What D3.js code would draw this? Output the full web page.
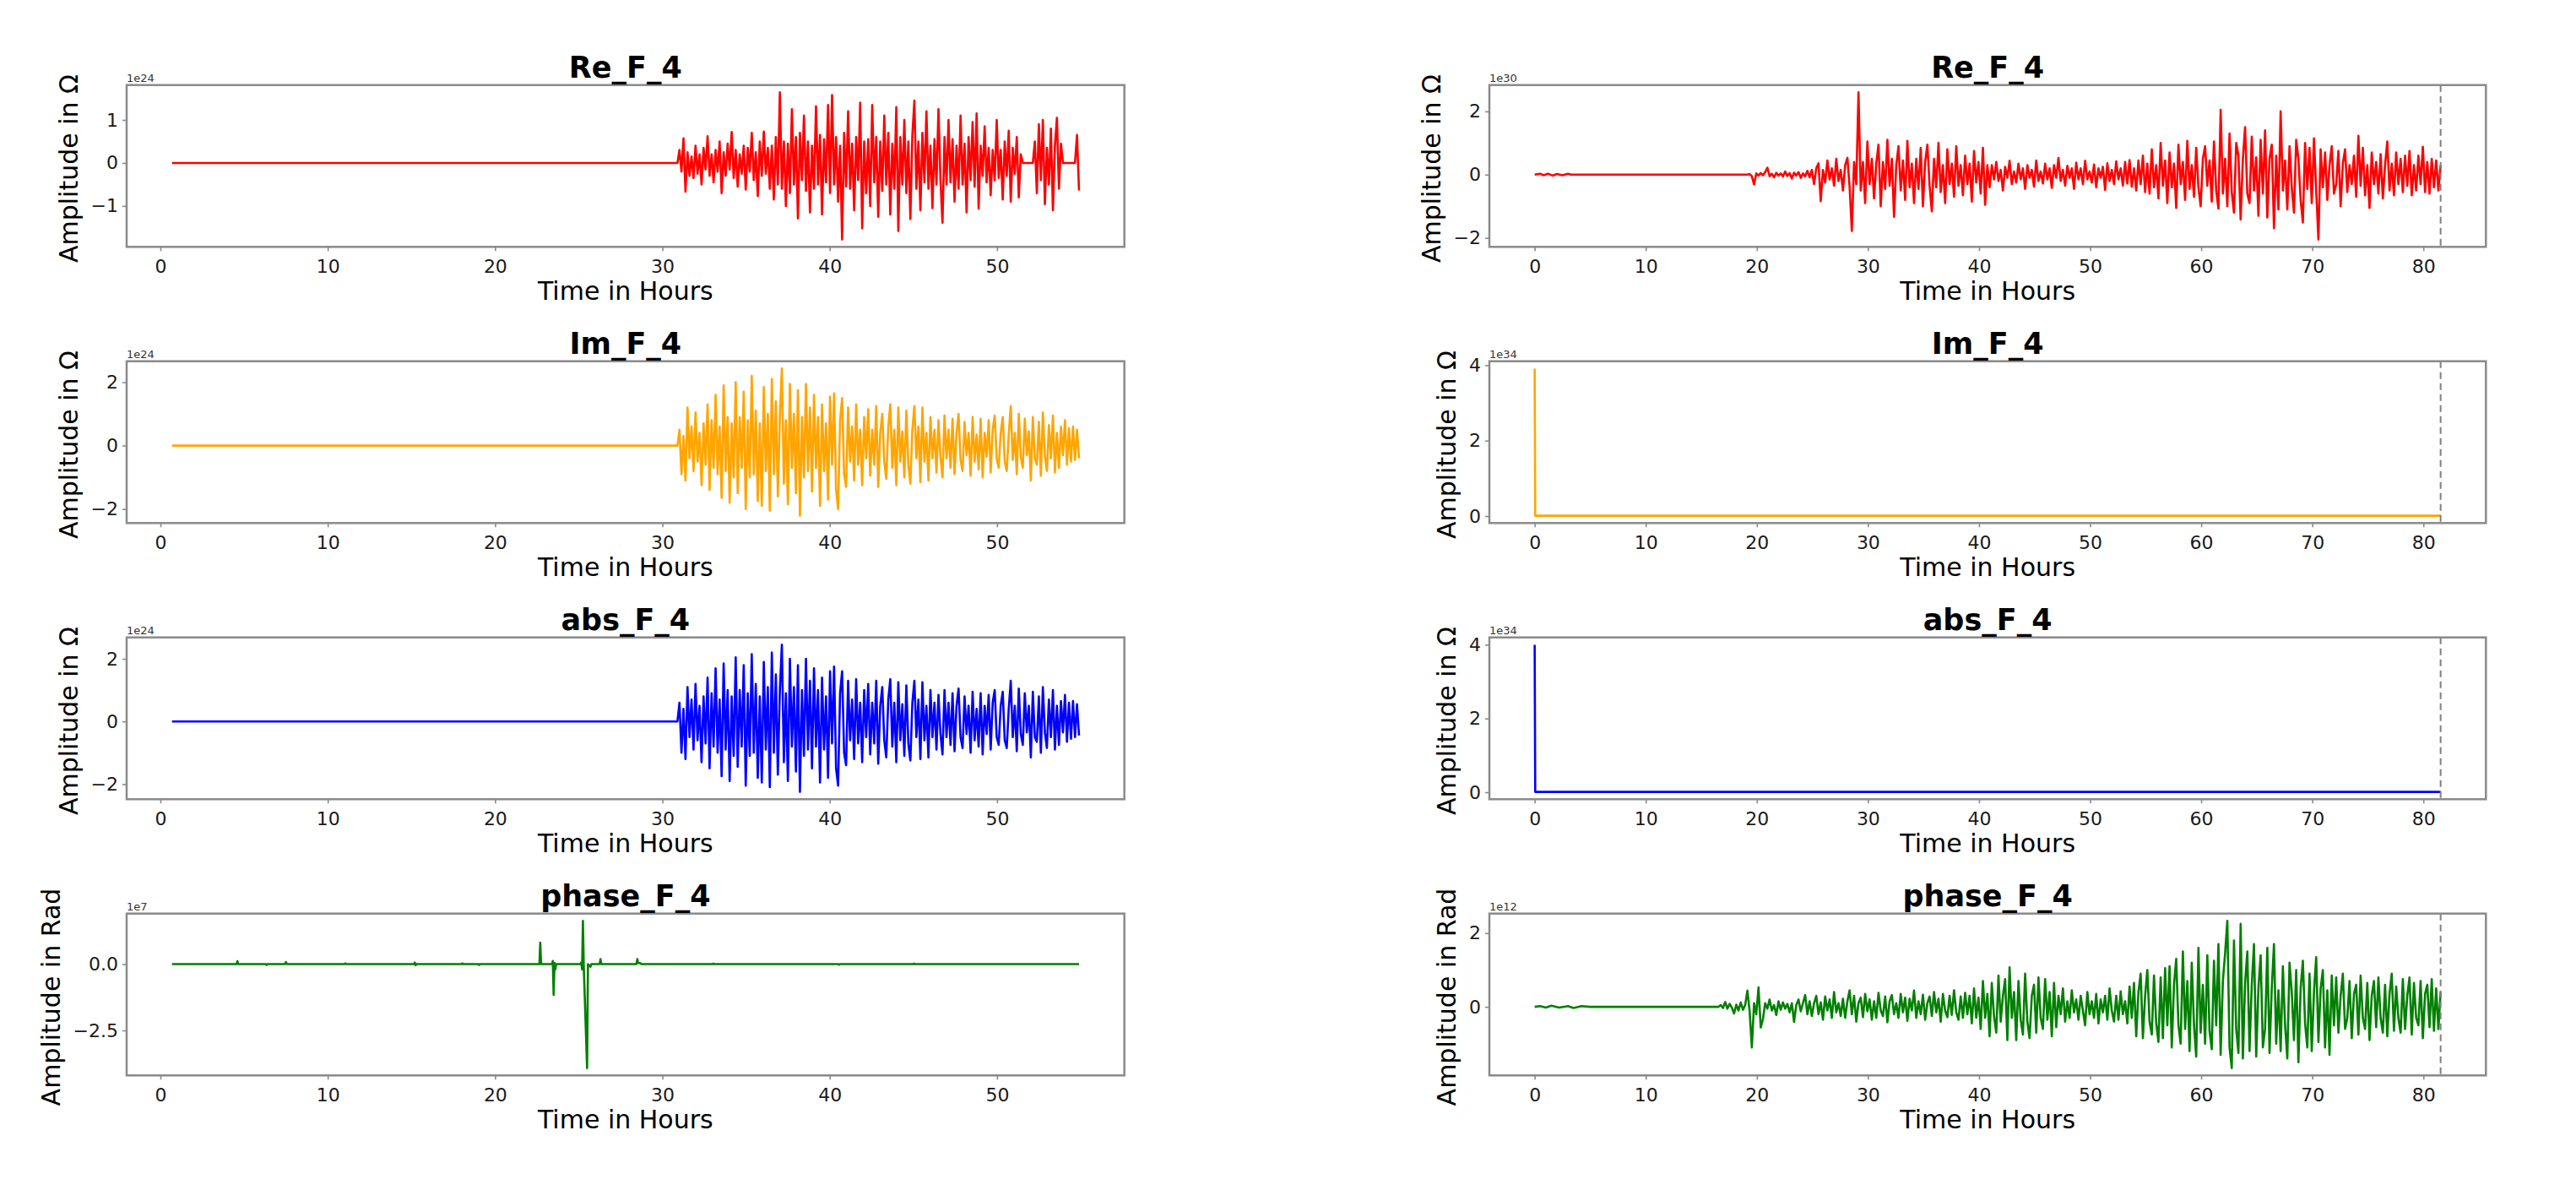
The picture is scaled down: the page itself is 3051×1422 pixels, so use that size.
<!DOCTYPE html>
<html>
<head>
<meta charset="utf-8">
<script src="https://cdn.jsdelivr.net/npm/d3@7"></script>
<style>
  body { margin: 0; background: #fff; }
  text { font-family: "DejaVu Sans", sans-serif; }
</style>
</head>
<body>
<div id="chart"></div>
<script>
// amplitudes are stored in units of the axis offset shown above each panel (1e24, 1e30 ...)

// ---- left run (hours 0.69 .. 54.9) ----
const leftLead = [[0.69, 0]];
const leftNoiseStart = 30.9, leftNoiseStep = 0.12;

const reLeft = [
  0, 0.3, -0.2, 0.57, -0.67, 0.25, -0.3, 0.15, -0.35, 0.4,
  -0.25, 0.2, -0.5, 0.35, -0.15, 0.62, -0.3, 0.2, -0.45, 0.3,
  -0.2, 0.5, -0.7, 0.25, -0.3, 0.45, -0.15, 0.72, -0.35, 0.3,
  -0.55, 0.2, -0.25, 0.4, -0.62, 0.35, -0.2, 0.7, -0.4, 0.25,
  -0.77, 0.5, -0.3, 0.73, -0.25, 0.35, -0.6, 0.4, -0.85, 0.6,
  -0.5, 1.64, -0.6, 0.5, -1.0, 0.45, -0.7, 1.25, -0.5, 0.6,
  -1.29, 0.7, -0.4, 1.1, -0.65, 0.5, -1.15, 0.4, -0.6, 1.32,
  -0.5, 0.65, -1.2, 0.55, -0.45, 1.35, -0.7, 1.58, -0.5, 0.6,
  -0.9, 0.4, -1.78, 0.7, -0.55, 1.2, -0.6, 0.45, -1.1, 0.6,
  -0.4, 1.4, -1.52, 0.5, -0.7, 0.55, -1.0, 1.35, -0.45, 0.6,
  -1.25, 0.5, -0.65, 1.1, -0.5, 0.7, -1.2, 0.45, -0.6, 1.3,
  -1.58, 0.6, -0.5, 1.0, -0.7, 0.5, -1.3, 0.65, 1.45, -0.6,
  0.5, -1.1, 0.7, -0.45, 1.2, -0.6, 0.4, -1.05, 0.55, -0.5,
  1.25, -0.4, -1.39, 0.6, -0.5, 1.0, -0.45, 0.55, -0.9, 0.4,
  -0.6, 1.1, -0.5, 0.45, -1.15, 0.6, -0.4, 0.95, -0.55, 1.15,
  -1.06, 0.4, -0.3, 0.85, -0.45, 0.35, -0.75, 0.3, -0.4, 1.0,
  -0.35, 0.3, -0.85, 0.5, -0.3, 0.75, -0.9, 0.35, -0.25, 0.6,
  -0.8, 0.2, 0, 0, 0, 0, 0, 0, 0.5, -0.7,
  0.9, -0.4, 1.0, -0.96, 0.35, -0.5, 0.8, -1.1, 0.4, 1.05,
  -0.6, 0.45, 0, 0, 0, 0, 0, 0, 0, 0.65,
  -0.64
];

const imLeft = [
  0, 0.5, -0.9, 0.3, -1.1, 1.2, -0.4, 0.6, -0.8, 1.05,
  -0.5, 0.4, -1.25, 0.7, -0.6, 1.3, -1.4, 0.8, -0.7, 1.6,
  -0.9, 0.6, -1.65, 1.9, -0.8, 0.9, -1.8, 0.7, -1.0, 2.0,
  -1.5, 0.9, -0.7, 1.7, -2.0, 0.8, -1.0, 2.2, -0.9, 1.1,
  -1.75, 0.7, -1.9, 1.85, -0.8, 1.0, -2.05, 2.1, -0.9, 1.4,
  -1.6, 0.9, 2.43, -1.2, 0.8, -1.85, 1.95, -0.7, 1.0, -1.5,
  1.75, -2.21, 0.9, -1.0, 1.95, -0.8, 1.2, -1.45, 1.6, -0.7,
  0.9, -1.9, 1.3, -0.8, 0.7, -1.7, 1.55, -0.6, 1.65, -1.4,
  -2.0, 0.8, 1.5, -0.9, -1.3, 1.2, -0.5, 0.6, -1.1, 1.3,
  -0.6, 0.5, -1.25, 0.9, -0.4, 1.15, -0.95, 0.5, -0.6, 1.25,
  -1.3, 0.4, 1.0, -0.5, -1.05, 0.6, 1.3, -0.7, 0.5, -1.25,
  1.2, -0.5, 0.45, -1.0, 1.1, -0.6, -1.2, 0.5, 1.25, -0.4,
  0.6, -1.15, 1.2, -0.5, 0.4, -1.1, 0.9, -0.4, 0.5, -0.85,
  0.8, -0.35, -1.0, 0.95, -0.4, 0.5, -0.7, 0.85, -0.9, 0.4,
  1.0, -0.45, -0.8, 0.75, -0.3, 0.4, -0.95, 0.9, -0.5, 0.35,
  -0.75, 0.85, -1.0, 0.4, -0.35, 0.8, -0.85, 0.5, 0.95, -0.4,
  -0.7, 0.4, 0.9, -0.5, -0.8, 0.35, 1.25, -0.45, 0.4, -0.9,
  1.0, -0.35, -0.7, 0.85, -0.3, 0.45, -1.1, 0.9, -0.4, -0.6,
  0.75, -0.95, 1.05, -0.3, -0.8, 0.65, -0.4, 0.95, -0.85, 0.4,
  -0.7, 0.6, -0.3, 0.8, -0.6, 0.55, -0.5, 0.6, -0.45, 0.5,
  -0.4
];

const absLeft = [
  0, 0.6, -1.0, 0.4, -1.2, 1.1, -0.5, 0.7, -0.9, 1.2,
  -0.6, 0.5, -1.3, 0.8, -0.7, 1.4, -1.5, 0.9, -0.8, 1.7,
  -1.0, 0.7, -1.75, 1.85, -0.9, 1.0, -1.9, 0.8, -1.1, 2.05,
  -1.45, 1.0, -0.8, 1.8, -2.05, 0.9, -1.1, 2.15, -1.0, 1.2,
  -1.8, 0.8, -1.95, 1.9, -0.9, 1.1, -2.1, 2.2, -1.0, 1.5,
  -1.7, 1.0, 2.45, -1.3, 0.9, -1.9, 2.0, -0.8, 1.1, -1.6,
  1.8, -2.25, 1.0, -1.1, 2.0, -0.9, 1.3, -1.5, 1.7, -0.8,
  1.0, -1.95, 1.4, -0.9, 0.8, -1.8, 1.6, -0.7, 1.75, -1.5,
  -2.05, 0.9, 1.6, -1.0, -1.4, 1.3, -0.6, 0.7, -1.2, 1.35,
  -0.7, 0.6, -1.3, 1.0, -0.5, 1.2, -1.05, 0.6, -0.7, 1.3,
  -1.35, 0.5, 1.1, -0.6, -1.15, 0.7, 1.35, -0.8, 0.6, -1.3,
  1.25, -0.6, 0.55, -1.1, 1.15, -0.7, -1.25, 0.6, 1.3, -0.5,
  0.7, -1.2, 1.25, -0.6, 0.5, -1.15, 1.0, -0.5, 0.6, -0.9,
  0.85, -0.4, -1.05, 1.0, -0.5, 0.6, -0.75, 0.9, -0.95, 0.5,
  1.05, -0.5, -0.85, 0.8, -0.4, 0.5, -1.0, 0.95, -0.6, 0.4,
  -0.8, 0.9, -1.05, 0.5, -0.4, 0.85, -0.9, 0.6, 1.0, -0.5,
  -0.75, 0.5, 0.95, -0.6, -0.85, 0.4, 1.3, -0.5, 0.5, -0.95,
  1.05, -0.4, -0.75, 0.9, -0.35, 0.5, -1.15, 0.95, -0.5, -0.65,
  0.8, -1.0, 1.1, -0.35, -0.85, 0.7, -0.5, 1.0, -0.9, 0.5,
  -0.75, 0.65, -0.35, 0.85, -0.65, 0.6, -0.55, 0.65, -0.5, 0.55,
  -0.45
];

// [hour, value] - phase is flat with a few spikes
const phaseLeft = [
  [0.69, 0], [4.55, 0], [4.6, 0.11], [4.65, 0], [6.3, 0], [6.35, -0.03], [6.4, 0],
  [7.45, 0], [7.5, 0.08], [7.55, 0], [11.0, 0], [11.05, 0.03], [11.1, 0],
  [15.15, 0], [15.2, 0.06], [15.25, -0.04], [15.3, 0], [18.0, 0], [18.05, 0.03], [18.1, 0],
  [19.0, 0], [19.05, -0.03], [19.1, 0], [22.65, 0], [22.7, 0.81], [22.75, 0],
  [23.4, 0], [23.45, 0.12], [23.5, -1.16], [23.55, 0.05], [23.6, -0.2], [23.65, 0],
  [25.1, 0], [25.15, 0.06], [25.2, -0.2], [25.25, 1.63], [25.3, -0.1], [25.5, -3.92], [25.55, 0],
  [25.7, -0.1], [25.75, 0], [26.25, 0], [26.3, 0.19], [26.35, 0],
  [28.45, 0], [28.5, 0.19], [28.55, 0.05], [28.7, 0.03], [28.75, 0],
  [33.0, 0], [33.05, 0.02], [33.1, 0], [40.5, 0], [40.55, -0.02], [40.6, 0],
  [45.0, 0], [45.05, 0.02], [45.1, 0], [54.9, 0]
];

// ---- right run (hours 0 .. 81.55) ----
const rightStep = 0.2;
const reRightLead = [[0, 0], [0.5, 0.03], [0.8, -0.02], [1.2, 0.03], [1.6, -0.03], [2.0, 0.02], [2.5, -0.02], [3.0, 0.03], [3.3, 0]];
const reRightStart = 19.15;
const reRight = [
  0, 0.02, -0.05, -0.31, 0.04, -0.03, 0.05, -0.02, 0.08, 0.22,
  -0.05, 0.03, -0.08, 0.06, -0.03, 0.04, -0.06, 0.1, -0.04, 0.05,
  -0.12, 0.06, -0.03, 0.08, -0.1, 0.04, -0.05, 0.12, -0.08, 0.15,
  -0.3, 0.2, 0.36, -0.84, 0.15, -0.25, 0.45, -0.15, 0.2, -0.35,
  0.5, -0.2, 0.15, -0.5, 0.3, 0.53, -0.38, -1.78, 0.4, -0.3,
  2.6, -0.5, 0.4, -0.9, 1.05, -0.3, 0.5, -0.75, 0.35, 0.95,
  -1.0, 0.4, -0.45, 1.1, -0.35, 0.5, -1.33, 0.3, 0.9, -0.5,
  0.45, -0.8, 1.07, -0.4, 0.35, -0.9, 0.5, -0.45, 0.85, -1.0,
  0.4, 0.95, -0.35, -1.16, 0.5, -0.4, 1.0, -0.55, 0.3, -0.9,
  0.8, -0.3, 0.35, -0.7, 0.9, -0.35, 0.3, -0.65, 0.6, -0.3,
  0.35, -0.85, 0.75, -0.25, 0.4, -0.6, 0.85, -0.95, 0.3, -0.4,
  0.3, -0.15, 0.4, -0.2, 0.15, -0.5, 0.25, -0.1, 0.44, -0.3,
  0.1, -0.25, 0.35, -0.15, 0.2, -0.45, 0.3, -0.1, 0.15, -0.38,
  0.45, -0.2, 0.1, -0.28, 0.35, -0.15, 0.2, -0.42, 0.3, -0.1,
  0.53, -0.2, 0.15, -0.35, 0.28, -0.1, 0.2, -0.45, 0.38, -0.15,
  0.2, -0.3, 0.44, -0.15, 0.1, -0.25, 0.32, -0.4, 0.2, -0.1,
  0.25, -0.48, 0.36, -0.2, 0.15, -0.3, 0.42, -0.15, 0.2, -0.35,
  0.4, -0.28, 0.46, -0.38, 0.2, -0.5, 0.45, -0.3, 0.6, -0.55,
  0.35, -0.6, 0.8, -0.4, 0.3, -0.75, 1.0, -0.35, 0.45, -0.9,
  0.7, -0.4, 0.35, -1.05, 0.95, -0.3, 0.4, -0.8, 1.07, -0.45,
  0.3, -0.7, 0.85, -0.4, -1.0, 0.5, 0.9, -0.35, 0.45, -0.85,
  1.05, -0.5, -1.07, 2.05, -0.6, 0.5, -1.0, 1.3, -0.55, -1.2,
  1.0, 0.6, -1.42, 0.5, 1.5, -0.6, -0.9, 1.2, -0.5, 0.55,
  -1.3, 1.1, -0.6, 1.4, -1.35, 0.5, 0.95, -1.69, 0.6, -1.1,
  2.0, -0.5, 0.45, -1.1, 0.9, -0.4, -1.2, 1.1, 0.5, -0.8,
  -1.51, 1.0, -0.45, 0.85, -0.9, 1.15, -0.5, -2.05, 0.8, -0.4,
  0.7, -0.8, 0.3, 0.9, -0.6, -0.3, 0.75, -1.0, 0.35, 0.8,
  -0.55, 0.3, -0.3, 0.6, -0.7, 1.23, -0.35, 0.85, -0.65, 0.3,
  -1.05, 0.7, -0.3, 0.4, -0.6, 0.65, -0.75, 0.3, 1.05, -0.5,
  0.35, -0.65, 0.7, -0.3, 0.5, -0.55, 0.6, -0.35, 0.75, -0.65,
  0.3, -0.5, 0.6, -0.3, 0.88, -0.55, 0.4, -0.6, 0.5, -0.4,
  0.45, -0.5, 0.3
];

const imRight  = [[0, 3.91], [0.05, 0.01], [81.55, 0.01]];
const absRight = [[0, 4.0], [0.05, 0.01], [81.55, 0.01]];

const phaseRightLead = [[0, 0], [0.5, 0.02], [1.0, -0.02], [1.5, 0.03], [2.2, -0.02], [3.0, 0.02], [3.5, -0.03], [4.2, 0.02], [5.0, 0]];
const phaseRightStart = 16.55;
const phaseRight = [
  0, 0.05, -0.03, 0.13, -0.05, 0.08, -0.02, -0.18, 0.06, -0.1,
  0.12, -0.08, 0.05, 0.44, -0.12, -1.1, 0.1, -0.2, 0.53, -0.56,
  -0.33, 0.1, -0.05, 0.2, -0.1, 0.05, -0.22, 0.15, -0.08, 0.12,
  -0.05, 0.08, -0.15, 0.1, -0.41, 0.05, 0.2, -0.12, 0.1, 0.32,
  -0.2, 0.15, -0.25, 0.1, 0.3, -0.2, 0.12, -0.35, 0.28, -0.1,
  0.2, -0.3, 0.4, -0.15, 0.1, -0.25, 0.22, -0.3, 0.15, 0.45,
  -0.2, 0.3, -0.4, 0.1, 0.25, -0.28, 0.35, -0.12, 0.2, -0.35,
  0.15, -0.3, 0.38, -0.1, -0.25, 0.28, -0.42, 0.15, 0.32, -0.2,
  0.1, -0.3, 0.35, -0.15, 0.25, -0.38, 0.22, -0.1, 0.44, -0.3,
  0.15, -0.2, 0.33, -0.35, 0.1, 0.28, -0.25, 0.4, -0.15, 0.22,
  -0.4, 0.35, -0.1, -0.28, 0.3, -0.22, 0.45, -0.15, -0.35, 0.28,
  -0.3, 0.38, -0.2, 0.3, -0.45, 0.5, -0.3, 0.25, -0.6, 0.7,
  -0.3, 0.35, -0.8, 0.65, -0.25, -0.7, 0.85, -0.4, 0.3, 0.75,
  -0.9, 1.07, -0.3, 0.4, -0.9, 0.7, -0.35, -0.75, 0.9, -0.4,
  -0.85, 0.3, 0.6, -0.7, 0.8, -0.3, -0.6, 0.75, -0.35, 0.4,
  -0.8, 0.65, -0.55, 0.3, -0.2, 0.5, -0.4, 0.15, -0.3, 0.45,
  -0.15, 0.2, -0.35, 0.3, -0.1, -0.5, 0.4, -0.2, 0.15, -0.3,
  0.35, -0.45, 0.2, -0.15, 0.3, -0.35, 0.5, -0.1, -0.4, 0.3,
  -0.35, 0.42, -0.2, 0.15, -0.45, 0.55, -0.3, 0.65, -0.8, 0.4,
  0.9, -0.85, 0.3, 1.0, -0.4, -0.75, 0.85, -0.45, -0.95, 0.8,
  -0.85, 1.05, -0.5, 1.1, -1.1, 0.6, 1.3, -0.5, -1.0, 1.5,
  -0.6, 0.7, -1.2, 1.2, -0.5, -1.35, 1.6, -0.7, 0.6, -1.0,
  1.4, -0.65, -1.15, 1.25, -0.5, 1.7, -1.3, 0.7, 1.45, 2.33,
  -1.1, -1.66, 1.8, -0.6, -1.25, 2.25, -1.4, 0.65, 1.5, -1.2,
  0.6, 1.7, -1.35, 0.5, 1.4, -1.1, -0.6, 1.6, -1.25, 0.5,
  1.7, -1.0, 0.45, -1.2, 1.1, -0.5, -1.4, 1.2, 0.4, -0.9,
  1.0, -1.5, 0.5, 1.25, -0.45, -1.1, 0.9, -1.2, 0.4, 1.35,
  -0.95, 0.5, 1.0, -1.1, 0.45, -1.3, 0.85, -0.5, 0.8, -0.7,
  0.3, 0.9, -0.6, -0.3, 0.7, -0.85, 0.35, 0.6, -0.75, 0.85,
  -0.3, -0.6, 0.65, -0.9, 0.3, 0.7, -0.55, 0.8, -0.3, -0.7,
  0.6, -0.8, 0.35, 0.9, -0.65, 0.55, -0.3, -0.7, 0.75, -0.6,
  0.3, 0.8, -0.75, 0.65, -0.3, -0.5, 0.7, -0.85, 0.35, 0.6,
  -0.55, 0.75, -0.65, 0.5, -0.6, 0.4
];

const cutoffHour = 81.55;   // dashed marker on the right run

// ---- ticks ----
const xTicksLeft  = [0, 10, 20, 30, 40, 50];
const xTicksRight = [0, 10, 20, 30, 40, 50, 60, 70, 80];
const yTicksReLeft    = [-1, 0, 1];
const yTicksImLeft    = [-2, 0, 2];
const yTicksPhaseLeft = [-2.5, 0];
const yTicksReRight   = [-2, 0, 2];
const yTicksImRight   = [0, 2, 4];
const yTicksPhaseRight = [0, 2];

function sampled(lead, start, step, values) {
  return lead.concat(values.map((v, i) => [start + i * step, v]));
}

const omega = "Amplitude in Ω", rad = "Amplitude in Rad";
const intFmt = d3.format("d"), oneFmt = d3.format(".1f");

const panels = [
  { col: 0, row: 0, title: "Re_F_4",    color: "red",    data: sampled(leftLead, leftNoiseStart, leftNoiseStep, reLeft),  xt: xTicksLeft, yt: yTicksReLeft,    fmt: intFmt, exp: "1e24", yl: omega },
  { col: 0, row: 1, title: "Im_F_4",    color: "orange", data: sampled(leftLead, leftNoiseStart, leftNoiseStep, imLeft),  xt: xTicksLeft, yt: yTicksImLeft,    fmt: intFmt, exp: "1e24", yl: omega },
  { col: 0, row: 2, title: "abs_F_4",   color: "blue",   data: sampled(leftLead, leftNoiseStart, leftNoiseStep, absLeft), xt: xTicksLeft, yt: yTicksImLeft,    fmt: intFmt, exp: "1e24", yl: omega },
  { col: 0, row: 3, title: "phase_F_4", color: "green",  data: phaseLeft,                                                   xt: xTicksLeft, yt: yTicksPhaseLeft, fmt: oneFmt, exp: "1e7",  yl: rad },
  { col: 1, row: 0, title: "Re_F_4",    color: "red",    data: sampled(reRightLead, reRightStart, rightStep, reRight),       xt: xTicksRight, yt: yTicksReRight,    fmt: intFmt, exp: "1e30", yl: omega, cut: true },
  { col: 1, row: 1, title: "Im_F_4",    color: "orange", data: imRight,                                                     xt: xTicksRight, yt: yTicksImRight,    fmt: intFmt, exp: "1e34", yl: omega, cut: true },
  { col: 1, row: 2, title: "abs_F_4",   color: "blue",   data: absRight,                                                    xt: xTicksRight, yt: yTicksImRight,    fmt: intFmt, exp: "1e34", yl: omega, cut: true },
  { col: 1, row: 3, title: "phase_F_4", color: "green",  data: sampled(phaseRightLead, phaseRightStart, rightStep, phaseRight), xt: xTicksRight, yt: yTicksPhaseRight, fmt: intFmt, exp: "1e12", yl: rad, cut: true }
];

// ---- layout ----
const cols = [[150, 1331.7], [1764, 2944.3]];
const rowTops = [100.7, 427.7, 754.7, 1081.7];
const rowH = 191.6;
const spine = "#8a8a8a";

const svg = d3.select("#chart")
  .append("svg")
  .attr("width", 3051)
  .attr("height", 1422)
  .style("background", "#fff");

// matplotlib style autoscale: data extent plus 5% on each side
function padded(ext) {
  const m = (ext[1] - ext[0]) * 0.05;
  return [ext[0] - m, ext[1] + m];
}

panels.forEach(p => {
  const [left, right] = cols[p.col];
  const top = rowTops[p.row];
  const bottom = top + rowH;
  const g = svg.append("g");

  const x = d3.scaleLinear()
    .domain(padded(d3.extent(p.data, d => d[0])))
    .range([left, right]);
  const y = d3.scaleLinear()
    .domain(padded(d3.extent(p.data, d => d[1])))
    .range([bottom, top]);

  const line = d3.line().x(d => x(d[0])).y(d => y(d[1]));

  g.append("path")
    .datum(p.data)
    .attr("d", line)
    .attr("fill", "none")
    .attr("stroke", p.color)
    .attr("stroke-width", 2.6)
    .attr("stroke-linejoin", "round");

  if (p.cut) {
    g.append("line")
      .attr("x1", x(cutoffHour)).attr("x2", x(cutoffHour))
      .attr("y1", top).attr("y2", bottom)
      .attr("stroke", "#808080")
      .attr("stroke-width", 2)
      .attr("stroke-dasharray", "8,5");
  }

  // X axis
  const xa = g.append("g")
    .attr("transform", `translate(0,${bottom})`)
    .call(d3.axisBottom(x).tickValues(p.xt).tickSize(5).tickPadding(10));

  // Y axis
  const ya = g.append("g")
    .attr("transform", `translate(${left},0)`)
    .call(d3.axisLeft(y).tickValues(p.yt).tickFormat(p.fmt).tickSize(5).tickPadding(5));

  [xa, ya].forEach(a => {
    a.select(".domain").remove();
    a.selectAll(".tick line").attr("stroke", spine).attr("stroke-width", 1.6);
    a.selectAll(".tick text")
      .attr("fill", "#1a1a1a")
      .style("font-size", "22px")
      .style("font-family", "'DejaVu Sans', sans-serif");
  });

  // spines
  g.append("rect")
    .attr("x", left).attr("y", top)
    .attr("width", right - left).attr("height", rowH)
    .attr("fill", "none")
    .attr("stroke", spine)
    .attr("stroke-width", 2.5);

  // offset text
  g.append("text")
    .attr("x", left)
    .attr("y", top - 4)
    .attr("fill", "#333")
    .style("font-size", "13px")
    .text(p.exp);

  // title
  g.append("text")
    .attr("x", (left + right) / 2)
    .attr("y", top - 9)
    .attr("text-anchor", "middle")
    .style("font-size", "35px")
    .style("font-weight", "bold")
    .text(p.title);

  // X label
  g.append("text")
    .attr("x", (left + right) / 2)
    .attr("y", bottom + 63)
    .attr("text-anchor", "middle")
    .style("font-size", "30px")
    .text("Time in Hours");

  // Y label, left of the tick labels
  const bb = ya.node().getBBox();
  const lx = left + bb.x - 16;
  g.append("text")
    .attr("transform", `translate(${lx},${top + rowH / 2 + 3}) rotate(-90)`)
    .attr("text-anchor", "middle")
    .style("font-size", "30px")
    .text(p.yl);
});
</script>
</body>
</html>
